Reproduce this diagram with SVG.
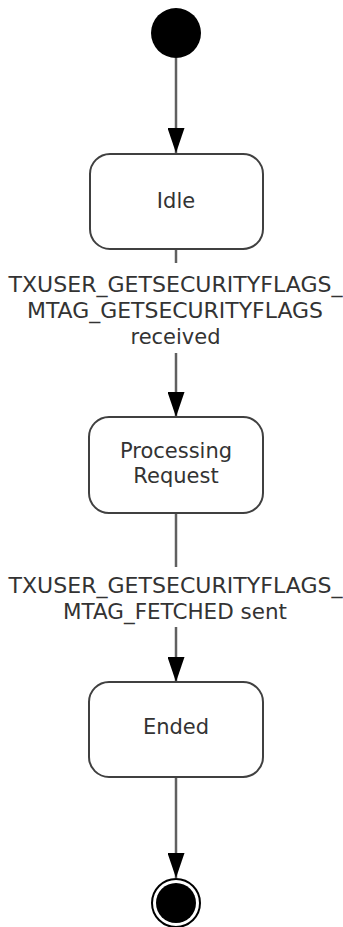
<svg xmlns="http://www.w3.org/2000/svg" width="343" height="927" viewBox="0 0 343 927">
<style>
.state{fill:#fff;stroke:#404040;stroke-width:2}
.conn{stroke:#606060;stroke-width:2.5;fill:none}
text{font-family:"DejaVu Sans",Verdana,sans-serif;font-size:21px;fill:#333;text-anchor:middle}
</style>
<defs>
<marker id="arr" markerWidth="25" markerHeight="17" refX="25" refY="8.5" orient="auto" markerUnits="userSpaceOnUse" viewBox="0 0 25 17">
<path d="M0,0 L25,8.5 L0,17 Z" fill="#000"/>
</marker>
</defs>
<rect width="343" height="927" fill="#fff"/>
<g id="connectors">
<line class="conn" x1="176" y1="58" x2="176" y2="153" marker-end="url(#arr)"/>
<line class="conn" x1="176" y1="249" x2="176" y2="263"/>
<line class="conn" x1="176" y1="353" x2="176" y2="417" marker-end="url(#arr)"/>
<line class="conn" x1="176" y1="513" x2="176" y2="567"/>
<line class="conn" x1="176" y1="627" x2="176" y2="682" marker-end="url(#arr)"/>
<line class="conn" x1="176" y1="777" x2="176" y2="878" marker-end="url(#arr)"/>
<text x="175.5" y="292" textLength="334" lengthAdjust="spacingAndGlyphs">TXUSER_GETSECURITYFLAGS_</text>
<text x="175" y="318" textLength="296" lengthAdjust="spacingAndGlyphs">MTAG_GETSECURITYFLAGS</text>
<text x="175.5" y="344">received</text>
<text x="175.5" y="593" textLength="334" lengthAdjust="spacingAndGlyphs">TXUSER_GETSECURITYFLAGS_</text>
<text x="175" y="619" textLength="224" lengthAdjust="spacingAndGlyphs">MTAG_FETCHED sent</text>
</g>
<g id="start">
<circle cx="176" cy="33" r="25" fill="#000"/>
</g>
<g id="idle">
<rect class="state" x="90" y="154" width="173" height="95" rx="20"/>
<text x="176" y="208">Idle</text>
</g>
<g id="processing">
<rect class="state" x="89" y="417" width="174" height="96" rx="20"/>
<text x="176" y="458">Processing</text>
<text x="176" y="483">Request</text>
</g>
<g id="ended">
<rect class="state" x="89" y="682" width="174" height="95" rx="20"/>
<text x="176" y="734">Ended</text>
</g>
<g id="end">
<circle cx="176" cy="903" r="24" fill="#fff" stroke="#000" stroke-width="2"/>
<circle cx="176" cy="903" r="20" fill="#000"/>
</g>
</svg>
